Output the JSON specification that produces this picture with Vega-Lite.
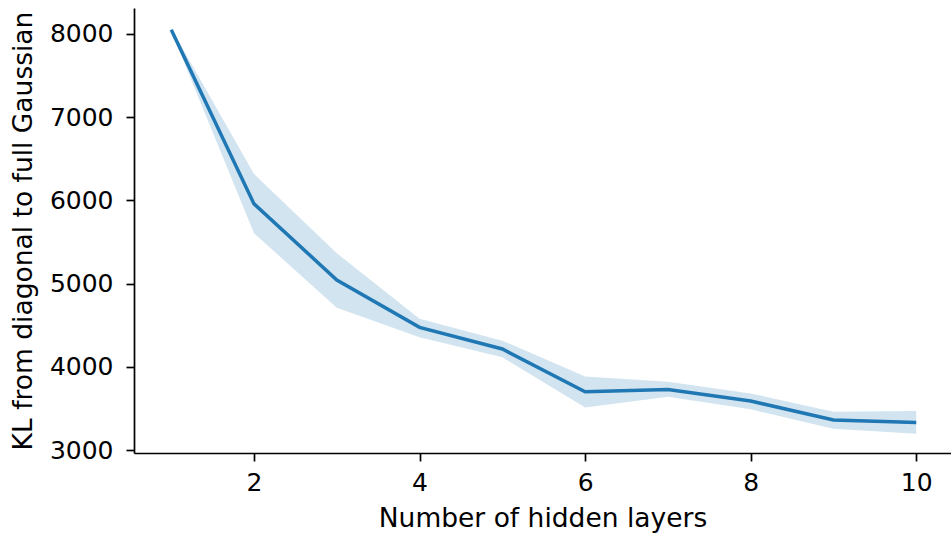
{
  "$schema": "https://vega.github.io/schema/vega-lite/v6.json",
  "width": 817,
  "height": 445,
  "autosize": {"type": "none"},
  "padding": {"left": 134, "top": 8, "right": 0, "bottom": 80},
  "background": "white",
  "config": {
    "view": {"stroke": null},
    "font": "DejaVu Sans",
    "axis": {
      "grid": false,
      "domainColor": "black",
      "domainWidth": 1.7,
      "tickColor": "black",
      "tickWidth": 1.7,
      "tickSize": 8,
      "labelFont": "DejaVu Sans",
      "labelFontSize": 25,
      "labelColor": "black",
      "titleFont": "DejaVu Sans",
      "titleFontSize": 26.5,
      "titleFontWeight": "normal",
      "titleColor": "black"
    }
  },
  "data": {
    "values": [
      {"layers": 1, "kl": 8050, "lo": 8035, "hi": 8065},
      {"layers": 2, "kl": 5957, "lo": 5604, "hi": 6317},
      {"layers": 3, "kl": 5043, "lo": 4710, "hi": 5364},
      {"layers": 4, "kl": 4474, "lo": 4354, "hi": 4578},
      {"layers": 5, "kl": 4214, "lo": 4114, "hi": 4314},
      {"layers": 6, "kl": 3700, "lo": 3513, "hi": 3885},
      {"layers": 7, "kl": 3729, "lo": 3641, "hi": 3821},
      {"layers": 8, "kl": 3589, "lo": 3489, "hi": 3681},
      {"layers": 9, "kl": 3361, "lo": 3256, "hi": 3461},
      {"layers": 10, "kl": 3332, "lo": 3196, "hi": 3469}
    ]
  },
  "encoding": {
    "x": {
      "field": "layers",
      "type": "quantitative",
      "scale": {"domain": [0.55, 10.42], "nice": false, "zero": false},
      "axis": {"values": [2, 4, 6, 8, 10], "format": "d", "title": "Number of hidden layers", "labelPadding": 9, "titlePadding": 10, "labelFlush": false}
    }
  },
  "layer": [
    {
      "mark": {"type": "area", "color": "#1f77b4", "opacity": 0.2},
      "encoding": {
        "y": {
          "field": "lo",
          "type": "quantitative",
          "scale": {"domain": [2965, 8310], "nice": false, "zero": false},
          "axis": {"values": [3000, 4000, 5000, 6000, 7000, 8000], "format": "d", "title": "KL from diagonal to full Gaussian", "labelPadding": 13, "titlePadding": 12, "labelFlush": false}
        },
        "y2": {"field": "hi"}
      }
    },
    {
      "mark": {"type": "line", "color": "#1f77b4", "strokeWidth": 3.5},
      "encoding": {
        "y": {"field": "kl", "type": "quantitative"}
      }
    }
  ]
}
